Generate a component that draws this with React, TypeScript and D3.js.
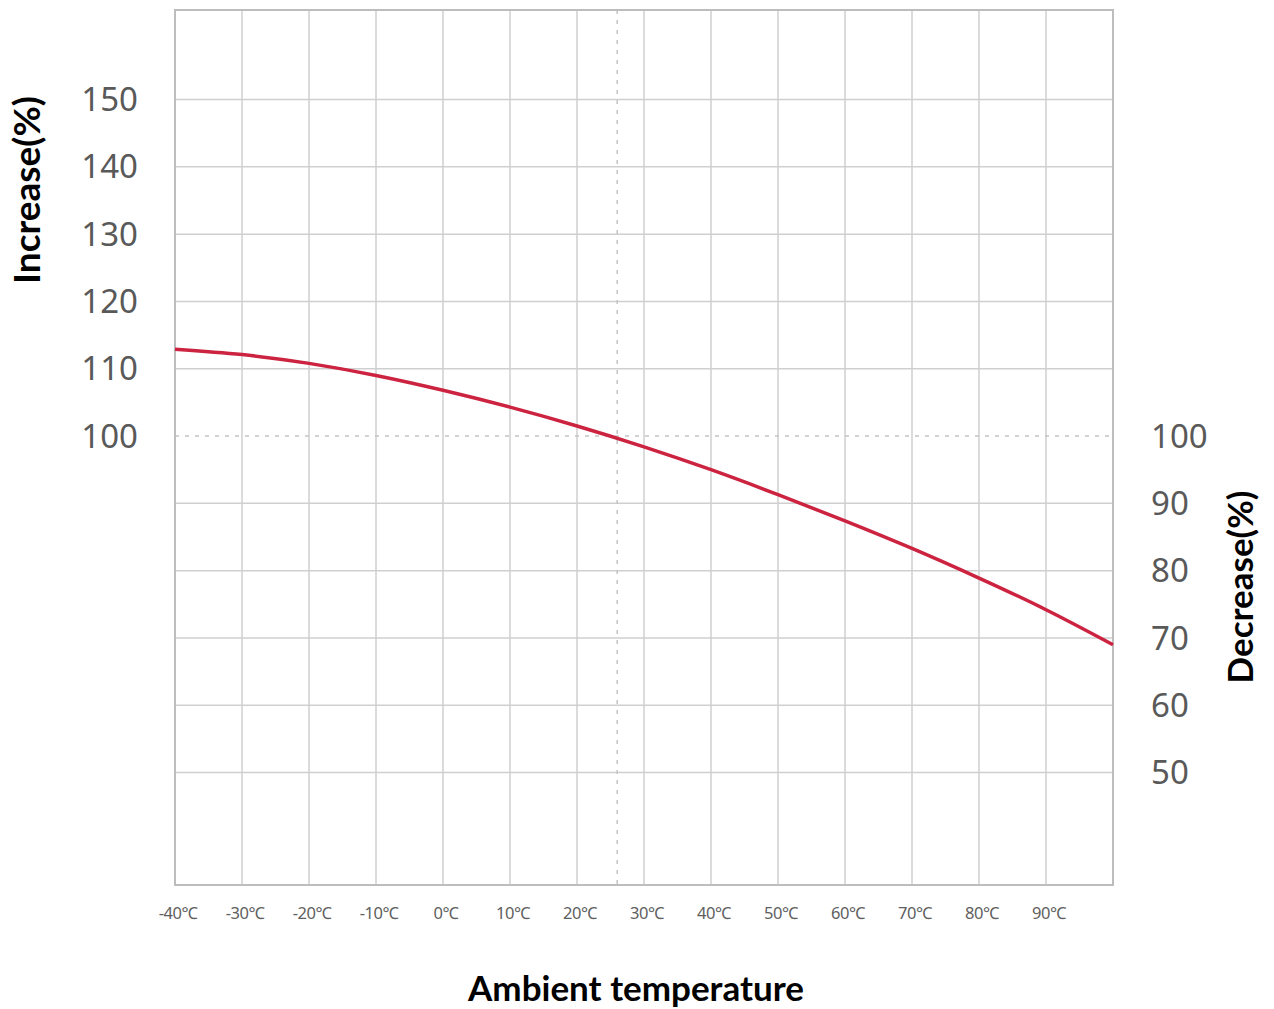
import { useEffect, useRef } from 'react'
import * as d3 from 'd3'

// temperature (°C) vs relative value (%)
const temps = [-40, -30, -20, -10, 0, 10, 20, 30, 40, 50, 60, 70, 80, 90, 100]
const values = [112.9, 112.1, 110.8, 109.0, 106.8, 104.3, 101.5, 98.4, 95.0, 91.3, 87.4, 83.3, 78.9, 74.2, 69.0]
const xTicks = [-40, -30, -20, -10, 0, 10, 20, 30, 40, 50, 60, 70, 80, 90]
const leftTicks = [150, 140, 130, 120, 110, 100]
const rightTicks = [100, 90, 80, 70, 60, 50]
const hGrid = [50, 60, 70, 80, 90, 110, 120, 130, 140, 150]
const refTemp = 26
const refValue = 100

export default function App() {
  const ref = useRef<SVGSVGElement>(null)

  useEffect(() => {
    const width = 1274
    const height = 1009
    const left = 175, right = 1113, top = 10, bottom = 885

    const svg = d3.select(ref.current)
    svg.selectAll('*').remove()

    const x = d3.scaleLinear().domain([-40, 100]).range([left, right])
    const y = d3.scaleLinear().domain([33.3, 163.3]).range([bottom, top])

    const grid = svg.append('g')
    grid.selectAll('line.v')
      .data(xTicks.slice(1))
      .join('line')
      .attr('x1', d => x(d)).attr('x2', d => x(d))
      .attr('y1', top).attr('y2', bottom)
      .attr('stroke', '#cfcfcf').attr('stroke-width', 1.5)

    grid.selectAll('line.h')
      .data(hGrid)
      .join('line')
      .attr('x1', left).attr('x2', right)
      .attr('y1', d => y(d)).attr('y2', d => y(d))
      .attr('stroke', '#cfcfcf').attr('stroke-width', 1.5)

    // reference dashed lines
    svg.append('line')
      .attr('x1', left).attr('x2', right)
      .attr('y1', y(refValue)).attr('y2', y(refValue))
      .attr('stroke', '#c4c4c4').attr('stroke-width', 1.5).attr('stroke-dasharray', '4,6')
    svg.append('line')
      .attr('x1', x(refTemp)).attr('x2', x(refTemp))
      .attr('y1', top).attr('y2', bottom)
      .attr('stroke', '#c4c4c4').attr('stroke-width', 1.5).attr('stroke-dasharray', '4,6')

    svg.append('rect')
      .attr('x', left).attr('y', top)
      .attr('width', right - left).attr('height', bottom - top)
      .attr('fill', 'none').attr('stroke', '#bdbdbd').attr('stroke-width', 2)

    const line = d3.line<number>()
      .x((_, i) => x(temps[i]))
      .y(d => y(d))
      .curve(d3.curveNatural)

    svg.append('path')
      .datum(values)
      .attr('d', line)
      .attr('fill', 'none')
      .attr('stroke', '#cc2340')
      .attr('stroke-width', 3.5)

    const tickFont = '"Noto Sans", sans-serif'

    svg.append('g').selectAll('text')
      .data(leftTicks)
      .join('text')
      .attr('x', 138).attr('y', d => y(d))
      .attr('dy', '0.35em')
      .attr('text-anchor', 'end')
      .style('font-family', tickFont).style('font-size', '33px').style('fill', '#595959')
      .text(d => d)

    svg.append('g').selectAll('text')
      .data(rightTicks)
      .join('text')
      .attr('x', 1151).attr('y', d => y(d))
      .attr('dy', '0.35em')
      .attr('text-anchor', 'start')
      .style('font-family', tickFont).style('font-size', '33px').style('fill', '#595959')
      .text(d => d)

    svg.append('g').selectAll('text')
      .data(xTicks)
      .join('text')
      .attr('x', d => x(d) + 3).attr('y', 913)
      .attr('dy', '0.35em')
      .attr('text-anchor', 'middle')
      .style('font-family', tickFont).style('font-size', '16.5px').style('fill', '#606060')
      .style('letter-spacing', '-0.5px')
      .text(d => `${d}℃`)

    const titleFont = 'Lato, sans-serif'

    svg.append('text')
      .attr('transform', 'translate(40,190) rotate(-90)')
      .attr('text-anchor', 'middle')
      .style('font-family', titleFont).style('font-weight', 700).style('font-size', '37px').style('fill', '#000')
      .text('Increase(%)')

    svg.append('text')
      .attr('transform', 'translate(1253,587) rotate(-90)')
      .attr('text-anchor', 'middle')
      .style('font-family', titleFont).style('font-weight', 700).style('font-size', '35px').style('fill', '#000')
      .text('Decrease(%)')

    svg.append('text')
      .attr('x', 636).attr('y', 1001)
      .attr('text-anchor', 'middle')
      .style('font-family', titleFont).style('font-weight', 700).style('font-size', '35px').style('fill', '#000')
      .text('Ambient temperature')

    svg.attr('width', width).attr('height', height)
  }, [])

  return (
    <div style={{ position: 'absolute', left: 0, top: 0, background: '#fff' }}>
      <svg ref={ref} width={1274} height={1009} style={{ display: 'block' }} />
    </div>
  )
}
